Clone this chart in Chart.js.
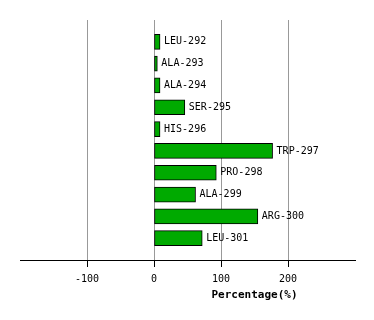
<!DOCTYPE html>
<html>
<head>
<meta charset="utf-8">
<script src="https://cdn.jsdelivr.net/npm/chart.js@4/dist/chart.umd.min.js"></script>
<style>
  html, body { margin: 0; padding: 0; background: #fff; }
  canvas { display: block; }
</style>
</head>
<body>
<canvas id="chart" width="374" height="320"></canvas>
<script>
// ===============================
// DATA
// ===============================
const residues = ["LEU-292", "ALA-293", "ALA-294", "SER-295", "HIS-296",
                  "TRP-297", "PRO-298", "ALA-299", "ARG-300", "LEU-301"];
const percentages = [9, 5, 9, 46, 9, 177, 93, 62, 155, 72];
const xTicks = [-100, 0, 100, 200];
const xTitle = "Percentage(%)";

const FONT = "'DejaVu Sans Mono', 'Liberation Mono', monospace";

// ===============================
// PLUGINS
// ===============================
const barLabels = {
  id: "barLabels",
  afterDatasetsDraw(chart) {
    const ctx = chart.ctx;
    const meta = chart.getDatasetMeta(0);
    ctx.save();
    ctx.font = "10px " + FONT;
    ctx.fillStyle = "#000";
    ctx.textAlign = "left";
    ctx.textBaseline = "middle";
    meta.data.forEach((bar, i) => {
      ctx.fillText(residues[i], Math.max(bar.x, bar.base) + 4, bar.y);
    });
    ctx.restore();
  }
};

const axisTitle = {
  id: "axisTitle",
  afterDraw(chart) {
    const ctx = chart.ctx;
    const x = chart.scales.x;
    ctx.save();
    ctx.font = "bold 11px " + FONT;
    ctx.fillStyle = "#000";
    ctx.textAlign = "center";
    ctx.textBaseline = "middle";
    ctx.fillText(xTitle, x.getPixelForValue(150), x.bottom - 25);
    ctx.restore();
  }
};

// ===============================
// CHART
// ===============================
new Chart(document.getElementById("chart"), {
  type: "bar",
  data: {
    datasets: [{
      data: percentages.map((v, i) => ({ x: v, y: i })),
      backgroundColor: "#00aa00",
      borderColor: "#000",
      borderWidth: 1,
      borderSkipped: false,
      barThickness: 15
    }]
  },
  options: {
    indexAxis: "y",
    responsive: false,
    animation: false,
    layout: { padding: { left: 20, right: 19, top: 20, bottom: 0 } },
    plugins: {
      legend: { display: false },
      tooltip: { enabled: false }
    },
    scales: {
      y: {
        type: "linear",
        reverse: true,
        offset: false,
        min: -1,
        max: 10,
        display: false
      },
      x: {
        type: "linear",
        min: -200,
        max: 300,
        afterBuildTicks: s => { s.ticks = xTicks.map(v => ({ value: v })); },
        afterFit: s => { s.height = 60; },
        grid: { color: "#999", tickColor: "#000", tickLength: 7 },
        border: { display: true, color: "#000" },
        ticks: {
          color: "#000",
          font: { family: FONT, size: 10 },
          padding: 6,
          maxRotation: 0
        }
      }
    }
  },
  plugins: [barLabels, axisTitle]
});
</script>
</body>
</html>
